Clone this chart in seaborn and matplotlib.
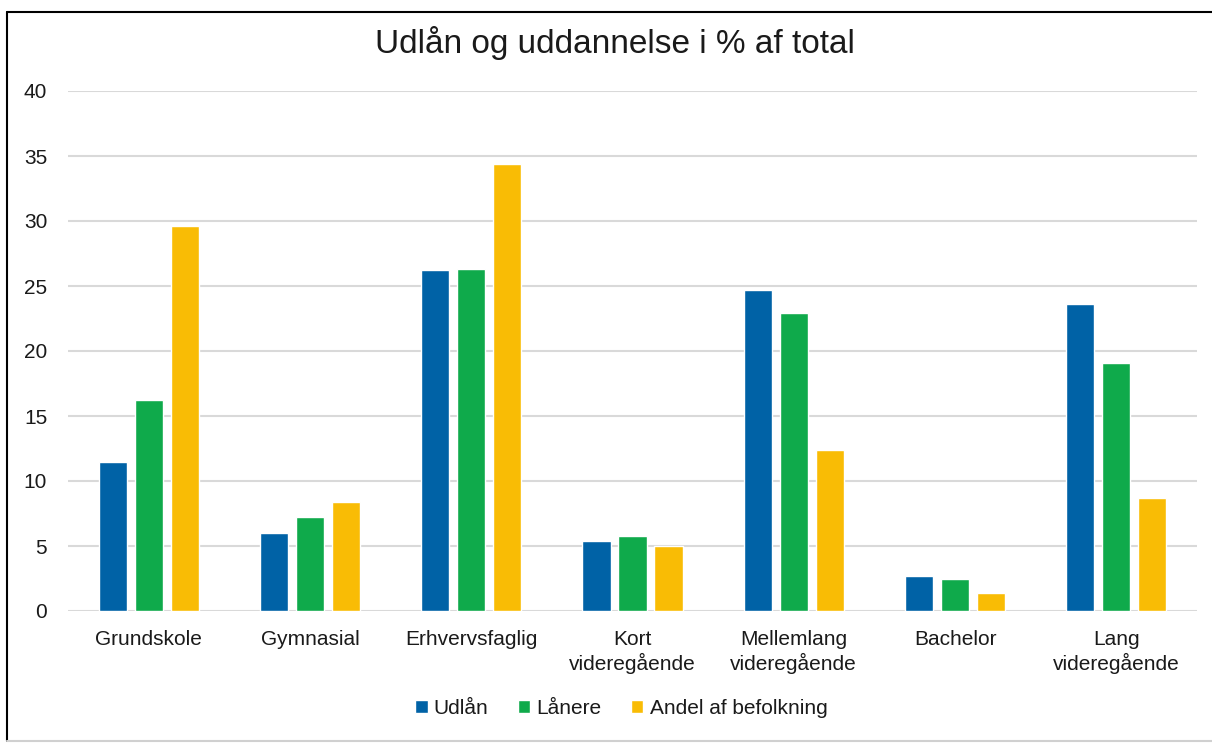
import numpy as np
import pandas as pd
import matplotlib
matplotlib.use("Agg")
import matplotlib.pyplot as plt
from matplotlib.lines import Line2D
import seaborn as sns

# data
categories = ["Grundskole", "Gymnasial", "Erhvervsfaglig", "Kort\nvideregående",
              "Mellemlang\nvideregående", "Bachelor", "Lang\nvideregående"]
series = ["Udlån", "Lånere", "Andel af befolkning"]
udlaan = [11.5, 6.0, 26.2, 5.4, 24.7, 2.7, 23.6]
laanere = [16.2, 7.2, 26.3, 5.8, 22.9, 2.5, 19.1]
andel = [29.6, 8.4, 34.4, 5.0, 12.4, 1.4, 8.7]
colors = ["#0062A6", "#0FAA4B", "#F9BC05"]

df = pd.DataFrame({
    "kategori": categories * 3,
    "serie": np.repeat(series, len(categories)),
    "pct": udlaan + laanere + andel,
})

sns.set_style("white")
plt.rcParams["font.family"] = ["Liberation Sans", "DejaVu Sans"]
TXT = "#1a1a1a"

fig = plt.figure(figsize=(12.12, 7.47), dpi=100)
ax = fig.add_axes([68 / 1212, 1 - 611 / 747, (1197 - 68) / 1212, (611 - 91) / 747])

sns.barplot(data=df, x="kategori", y="pct", hue="serie", palette=colors,
            width=0.67, gap=0.22, ax=ax, legend=True, saturation=1)

ax.set_ylim(0, 40)
ax.set_xlim(-0.5, 6.5)
ax.set_yticks(range(0, 41, 5))
ax.set_xlabel("")
ax.set_ylabel("")
ax.grid(axis="y", color="#D9D9D9", lw=1.5)
ax.set_axisbelow(True)
sns.despine(ax=ax, left=True, bottom=True)
ax.tick_params(axis="x", length=0, pad=14, labelsize=15, labelcolor=TXT)
ax.tick_params(axis="y", length=0, pad=15, labelsize=15, labelcolor=TXT)

fig.suptitle("Udlån og uddannelse i % af total", x=615 / 1212, y=1 - 43 / 747,
             va="center", fontsize=24, color=TXT)

leg = ax.legend(loc="center", bbox_to_anchor=(0.49, (611 - 708) / 520), ncol=3,
                frameon=False, fontsize=15, handlelength=0.6, handleheight=0.6,
                handletextpad=0.3, columnspacing=1.4)
for t in leg.get_texts():
    t.set_color(TXT)

# chart frame
fig.add_artist(Line2D([7 / 1212, 7 / 1212], [1 - 12 / 747, 1 - 741 / 747],
                      transform=fig.transFigure, color="black", lw=1.5))
fig.add_artist(Line2D([7 / 1212, 1], [1 - 12 / 747, 1 - 12 / 747],
                      transform=fig.transFigure, color="black", lw=1.5))
fig.add_artist(Line2D([7 / 1212, 1], [1 - 741 / 747, 1 - 741 / 747],
                      transform=fig.transFigure, color="#D0D0D0", lw=1.5))

fig.savefig("out.png", dpi=100)
